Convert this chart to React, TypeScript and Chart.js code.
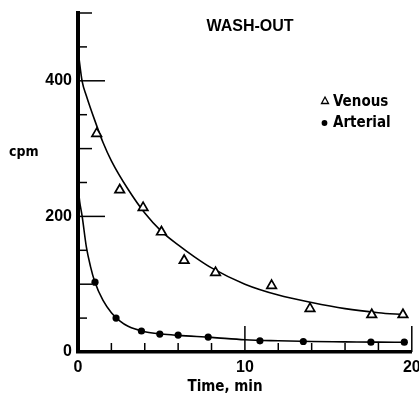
import { useEffect, useRef } from 'react';
import { Chart, registerables } from 'chart.js';

Chart.register(...registerables);

// Measured points (time in min, cpm)
const venousT = [1.12, 2.5, 3.9, 5.0, 6.36, 8.24, 11.6, 13.9, 17.6, 19.47];
const venousCpm = [322, 239, 213, 177, 135, 117, 98, 64, 55, 55];
const arterialT = [1.02, 2.28, 3.8, 4.9, 6.0, 7.8, 10.9, 13.5, 17.55, 19.55];
const arterialCpm = [103, 50, 31, 26.5, 25, 22, 16.5, 15.5, 14.5, 14.5];

// Fitted curves
const venousFitT = [0, 0.25, 0.5, 1, 1.5, 2, 3, 4, 5, 6, 7, 8, 10, 12, 14, 16, 18, 19.5];
const venousFitCpm = [445, 399, 378, 342, 309, 282, 240, 205, 178, 158, 140, 124, 100, 84, 73, 64, 58, 55];
const arterialFitT = [0, 0.1, 0.25, 0.5, 0.75, 1, 1.5, 2, 2.5, 3, 4, 5, 6, 8, 10, 12, 14, 16, 18, 19.5];
const arterialFitCpm = [245, 222, 200, 155, 126, 104, 76, 58, 46, 38, 30, 26.5, 24.5, 21.5, 18, 16.5, 15.5, 15, 14.5, 14.3];

const yTickLabels = [0, 200, 400];
const xTickLabels = [0, 10, 20];

const titleText = 'WASH-OUT';
const yTitle = 'cpm';
const xTitle = 'Time, min';
const seriesNames = ['Venous', 'Arterial'];

const SANS = '"Liberation Sans", Arial, sans-serif';
const COND = '"DejaVu Sans Condensed", "Liberation Sans", sans-serif';

const toXY = (xs: number[], ys: number[]) => xs.map((x, i) => ({ x, y: ys[i] }));

const tickPlugin = {
  id: 'inwardTicks',
  beforeDatasetsDraw(chart: any) {
    const { ctx, chartArea, scales } = chart;
    const x = scales.x;
    const y = scales.y;
    ctx.save();
    ctx.strokeStyle = '#000';
    ctx.lineWidth = 1.5;
    y.ticks.forEach((t: any) => {
      const v = t.value;
      if (v === 0) return;
      const len = v % 200 === 0 ? 27 : v % 100 === 0 ? 14 : 9;
      const py = y.getPixelForValue(v);
      ctx.beginPath();
      ctx.moveTo(chartArea.left, py);
      ctx.lineTo(chartArea.left + len, py);
      ctx.stroke();
    });
    x.ticks.forEach((t: any) => {
      const v = t.value;
      if (v === 0) return;
      const len = v % 10 === 0 ? 26 : 9;
      const px = x.getPixelForValue(v);
      ctx.beginPath();
      ctx.moveTo(px, chartArea.bottom);
      ctx.lineTo(px, chartArea.bottom - len);
      ctx.stroke();
    });
    ctx.restore();
  },
};

const textPlugin = {
  id: 'texts',
  afterDraw(chart: any) {
    const { ctx } = chart;
    ctx.save();
    ctx.fillStyle = '#000';
    ctx.textBaseline = 'middle';
    // Title
    ctx.font = `bold 16px ${SANS}`;
    ctx.textAlign = 'center';
    ctx.fillText(titleText, 250, 27);
    // y title
    ctx.font = `bold 14px ${COND}`;
    ctx.textAlign = 'left';
    ctx.fillText(yTitle, 9, 152);
    // x title
    ctx.font = `bold 15px ${COND}`;
    ctx.textAlign = 'center';
    ctx.fillText(xTitle, 225, 387);
    // legend
    ctx.textAlign = 'left';
    ctx.fillText(seriesNames[0], 333, 102);
    ctx.fillText(seriesNames[1], 333, 123);
    ctx.lineWidth = 1.3;
    ctx.strokeStyle = '#000';
    ctx.beginPath();
    ctx.moveTo(325, 97);
    ctx.lineTo(328.5, 103.5);
    ctx.lineTo(321.5, 103.5);
    ctx.closePath();
    ctx.stroke();
    ctx.beginPath();
    ctx.arc(324.5, 123, 2.9, 0, Math.PI * 2);
    ctx.fill();
    ctx.restore();
  },
};

export default function App() {
  const ref = useRef<HTMLCanvasElement | null>(null);
  useEffect(() => {
    if (!ref.current) return;
    const chart = new Chart(ref.current, {
      type: 'scatter',
      data: {
        datasets: [
          {
            label: seriesNames[0] + ' points',
            data: toXY(venousT, venousCpm),
            pointStyle: 'triangle',
            pointRadius: 5.5,
            pointBorderWidth: 1.7,
            pointBackgroundColor: '#fff',
            pointBorderColor: '#000',
            showLine: false,
            order: 1,
          },
          {
            label: seriesNames[1] + ' points',
            data: toXY(arterialT, arterialCpm),
            pointStyle: 'circle',
            pointRadius: 3.6,
            pointBorderWidth: 0,
            pointBackgroundColor: '#000',
            pointBorderColor: '#000',
            showLine: false,
            order: 1,
          },
          {
            label: seriesNames[0] + ' fit',
            data: toXY(venousFitT, venousFitCpm),
            showLine: true,
            pointRadius: 0,
            borderColor: '#000',
            borderWidth: 1.6,
            cubicInterpolationMode: 'monotone',
            order: 2,
          },
          {
            label: seriesNames[1] + ' fit',
            data: toXY(arterialFitT, arterialFitCpm),
            showLine: true,
            pointRadius: 0,
            borderColor: '#000',
            borderWidth: 1.6,
            cubicInterpolationMode: 'monotone',
            order: 2,
          },
        ],
      },
      options: {
        animation: false,
        responsive: false,
        layout: { padding: { top: 13, right: 6.3, left: 0, bottom: 0 } },
        plugins: { legend: { display: false }, tooltip: { enabled: false }, title: { display: false } },
        scales: {
          x: {
            type: 'linear',
            min: 0,
            max: 20,
            grid: { display: false, drawTicks: false },
            border: { display: true, width: 3.5, color: '#000' },
            ticks: {
              stepSize: 2,
              autoSkip: false,
              maxRotation: 0,
              padding: 6,
              color: '#000',
              font: { family: SANS, size: 16, weight: 'bold' },
              callback: (v: any) => (xTickLabels.includes(Number(v)) ? String(v) : ''),
            },
            afterFit: (s: any) => {
              s.height = 47;
              s.paddingLeft = 0;
              s.paddingRight = 0;
            },
          },
          y: {
            type: 'linear',
            min: 0,
            max: 500,
            grid: { display: false, drawTicks: false },
            border: { display: true, width: 4, color: '#000' },
            ticks: {
              stepSize: 50,
              autoSkip: false,
              padding: 6,
              color: '#000',
              font: { family: SANS, size: 16, weight: 'bold' },
              callback: (v: any) => (yTickLabels.includes(Number(v)) ? String(v) : ''),
            },
            afterFit: (s: any) => {
              s.width = 78;
              s.paddingTop = 0;
              s.paddingBottom = 0;
            },
          },
        },
      },
      plugins: [tickPlugin, textPlugin],
    });
    return () => chart.destroy();
  }, []);
  return (
    <div style={{ position: 'absolute', left: 0, top: 0, width: 419, height: 399, background: '#fff' }}>
      <canvas ref={ref} width={419} height={399} />
    </div>
  );
}
